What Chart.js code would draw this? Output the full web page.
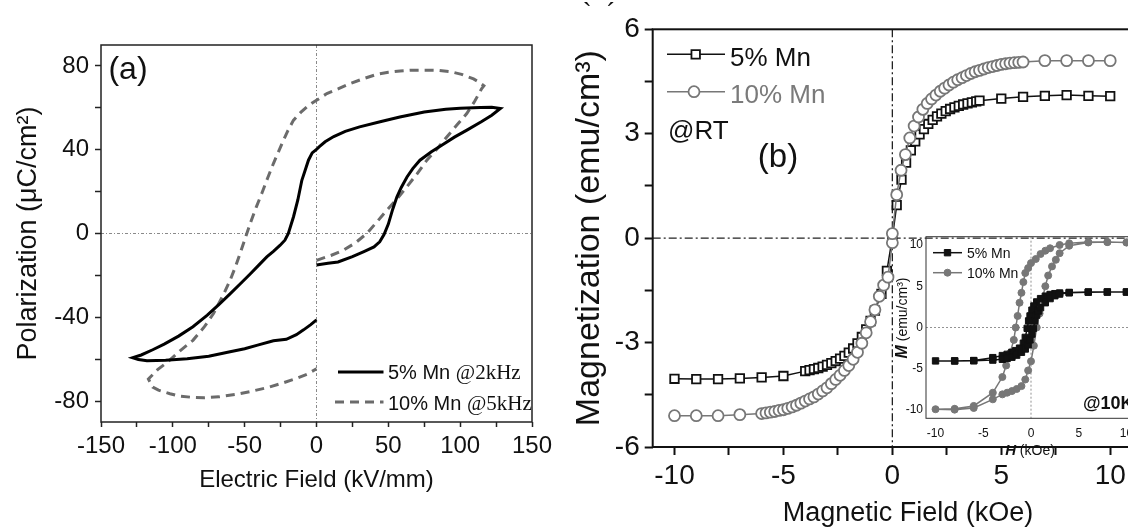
<!DOCTYPE html>
<html><head><meta charset="utf-8">
<script src="https://cdn.jsdelivr.net/npm/chart.js@4.4.1/dist/chart.umd.min.js"></script>
<style>
html,body{margin:0;padding:0;background:#fff;overflow:hidden;width:1128px;height:530px;position:relative;}
canvas{position:absolute;}
#ca{left:0;top:0;}
#cb{left:560px;top:0;}
#ci{left:880px;top:225px;}
</style></head><body>
<canvas id="ca" width="560" height="530"></canvas>
<canvas id="cb" width="600" height="530"></canvas>
<canvas id="ci" width="270" height="240"></canvas>
<script>
// ---------- Panel (a): P-E loops ----------
const aXTicks = [-150,-100,-50,0,50,100,150];
const aXMinor = [-125,-75,-25,25,75,125];
const aYTicks = [-80,-40,0,40,80];
const aYMinor = [-60,-20,20,60];
const aLegend5 = ['5% Mn ', '@2kHz'];
const aLegend10 = ['10% Mn ', '@5kHz'];
const a5X = [0,8,15,25,33,40,44,47,50,53,56,59,63,67,72,80,88,96,105,115,122,128,
  122,114,100,90,75,58,45,30,20,12,6,2,0,-3,-5.6,-8,-10.2,-13,-16,-19.6,-22,-25.3,-30,-34.6,-40,-46,-53,-60,-68,-76,-86,-96,-106,-114,-122,-128,
  -124,-118,-105,-90,-75,-61,-50,-41,-30,-21,-14,-9,-4,0];
const a5Y = [-15,-14.2,-13.6,-11,-8.6,-6.4,-4,-0.5,4.5,11.5,17.5,22,27,31,35,39,42.5,46,49.5,53.5,56.5,59.7,
  60.3,60.2,59.8,59.3,58,55.6,53.5,50.9,48.8,46.3,43.8,41.5,40.2,38.5,35,30,25.4,16,8,0,-3.2,-5.6,-8.5,-11.2,-15,-19.2,-24,-28.7,-34,-39,-44.5,-49,-52.8,-55.5,-58,-59.3,
  -60.2,-60.8,-60.5,-59.8,-58.6,-56.6,-55,-53.3,-51.2,-50.5,-48.3,-46,-43.5,-41.2];
const a10X = [0,10,18.7,27,35,42,48.9,56,62.8,70,76.8,84,90.7,98,104.6,110,115,116.5,
  113,109.3,101,93,85,76.8,67,58.2,50,42,33,23.4,15,7.2,0,-3,-6.8,-11,-16.1,-20,-23,-26.5,-30,-34,-38.1,-42,-45.5,-48.5,-53.2,-56.5,-60.1,-65,-71.7,-78,-86,-95,-103,-110.6,-117,
  -114,-110,-102,-95.7,-87,-78.4,-68,-56,-45,-33.7,-24,-13.9,-6,0];
const a10Y = [-12.8,-10.5,-8,-4.5,0,5.5,11.1,16.5,22.2,28.5,35,40.5,46.1,52,57.3,63,69.2,70.5,
  72.3,73.8,76,77.3,77.9,78,78,77.6,77,76,74,71.6,69,66.8,63.6,62.3,60.4,57.8,54,49,44.5,39,33.4,26.5,19.1,12.5,6,0,-9.6,-16,-22.3,-29.5,-38.2,-44.5,-51,-56,-61,-65,-69.5,
  -73.3,-74.8,-76.5,-77.6,-78.2,-78.4,-78,-76.8,-75.3,-73.5,-71.5,-69.2,-67,-64.6];

// ---------- Panel (b): M-H at RT ----------
const bXTicks = [-10,-5,0,5,10];
const bXMinor = [-7.5,-2.5,2.5,7.5];
const bYTicks = [-6,-3,0,3,6];
const bYMinor = [-4.5,-1.5,1.5,4.5];
const bLabels = ['5% Mn', '10% Mn'];
const b5X = [-10,-9,-8,-7,-6,-5,-4,-3.8,-3.6,-3.4,-3.2,-3,-2.8,-2.6,-2.4,-2.2,-2,-1.8,-1.6,-1.4,-1.2,-1,-0.8,-0.5,-0.25,0,
  0.2,0.42,0.63,0.85,1.05,1.25,1.45,1.65,1.85,2.05,2.25,2.45,2.65,2.85,3.05,3.25,3.45,3.65,3.85,4,5,6,7,8,9,10];
const b5Y = [-4.04,-4.05,-4.05,-4.03,-4.0,-3.96,-3.82,-3.79,-3.76,-3.73,-3.69,-3.64,-3.59,-3.53,-3.46,-3.38,-3.29,-3.17,-3.02,-2.84,-2.62,-2.38,-2.08,-1.6,-0.94,0.02,
  0.95,1.68,2.17,2.52,2.78,2.98,3.13,3.28,3.4,3.5,3.58,3.65,3.71,3.76,3.8,3.84,3.87,3.9,3.93,3.95,4.01,4.06,4.09,4.11,4.09,4.08];
const b10X = [-10,-9,-8,-7,-6,-5.8,-5.6,-5.4,-5.2,-5,-4.8,-4.6,-4.4,-4.2,-4,-3.8,-3.6,-3.4,-3.2,-3,-2.8,-2.6,-2.4,-2.2,-2,-1.8,-1.6,-1.4,-1.2,-1,-0.8,-0.6,-0.4,-0.2,0,0,
  0.2,0.4,0.6,0.8,1,1.2,1.4,1.6,1.8,2,2.2,2.4,2.6,2.8,3,3.2,3.4,3.6,3.8,4,4.2,4.4,4.6,4.8,5,5.2,5.4,5.6,5.8,6,7,8,9,10];
const b10Y = [-5.1,-5.1,-5.1,-5.07,-5.04,-5.02,-5.0,-4.98,-4.95,-4.93,-4.89,-4.85,-4.8,-4.74,-4.68,-4.62,-4.56,-4.48,-4.39,-4.3,-4.18,-4.06,-3.94,-3.8,-3.66,-3.48,-3.28,-3.02,-2.72,-2.4,-2.06,-1.67,-1.35,-1.12,-0.13,0.13,
  1.25,1.95,2.4,2.88,3.22,3.48,3.7,3.87,4.0,4.11,4.22,4.31,4.4,4.48,4.55,4.61,4.67,4.73,4.78,4.82,4.86,4.9,4.93,4.96,4.99,5.01,5.03,5.04,5.05,5.06,5.1,5.1,5.1,5.1];

// ---------- Inset: M-H at 10K ----------
const iTicks = [-10,-5,0,5,10];
const i5X = [10,8,6,4,3,2.5,2,1.5,1,0.6,0.3,0.1,-0.1,-0.25,-0.4,-0.6,-0.8,-1.2,-1.6,-2,-2.5,-3,-4,-6,-8,-10,
  -8,-6,-4,-3,-2.5,-2,-1.5,-1,-0.6,-0.3,-0.1,0.1,0.25,0.4,0.6,0.8,1,1.5,2,2.5,3,4,6,8,10];
const i5Y = [4.3,4.3,4.3,4.25,4.18,4.1,4.0,3.8,3.5,3.1,2.6,2.1,1.4,0.8,-0.1,-1.2,-1.9,-2.5,-2.8,-3.0,-3.25,-3.4,-3.65,-4.0,-4.05,-4.05,
  -4.05,-4.03,-3.95,-3.85,-3.75,-3.6,-3.35,-3.0,-2.6,-2.1,-1.5,-0.8,-0.1,0.8,1.5,2.0,2.4,3.0,3.5,3.85,4.05,4.2,4.28,4.3,4.3];
const i10X = [10,8,6,4,3,2,1.5,1,0.5,0,-0.3,-0.6,-0.8,-1,-1.2,-1.4,-1.6,-1.8,-2.2,-2.6,-3,-4,-6,-8,-10,
  -8,-6,-4,-3,-2.5,-2,-1.5,-1,-0.6,-0.3,0,0.3,0.6,0.9,1.2,1.5,1.8,2.2,2.6,3,4,6,8,10];
const i10Y = [10.3,10.35,10.35,10.2,10.0,9.6,9.3,8.9,8.3,7.8,7.2,6.6,5.5,4.2,3.0,1.4,0,-1.5,-3.1,-4.6,-6.0,-7.9,-9.5,-9.85,-9.9,
  -9.95,-9.75,-8.7,-8.1,-7.9,-7.7,-7.45,-7.1,-6.3,-5.2,-4.1,-2.2,0,1.7,3.5,5.0,6.3,7.4,8.2,9.0,9.9,10.3,10.35,10.3];

const SANS = "'Liberation Sans', Arial, sans-serif";
const SERIF = "'Liberation Serif', 'Times New Roman', serif";
Chart.defaults.font.family = SANS;
Chart.defaults.color = '#111';

function pts(xs, ys) { return xs.map((x, i) => ({x: x, y: ys[i]})); }

function axis(opts) {
  const major = opts.major, minor = opts.minor || [];
  return {
    min: opts.min, max: opts.max,
    afterBuildTicks: sc => { sc.ticks = major.concat(minor).sort((a, b) => a - b).map(v => ({value: v})); },
    afterFit: sc => { if (opts.width != null) sc.width = opts.width; if (opts.height != null) sc.height = opts.height; },
    grid: {drawOnChartArea: false, drawTicks: opts.tl > 0, tickLength: opts.tl || 0, tickWidth: opts.tw || 1.5, tickColor: opts.tc || '#111'},
    border: {display: false},
    ticks: {autoSkip: false, maxRotation: 0, minRotation: 0, padding: opts.pad, color: '#111',
      font: {size: opts.fs, family: opts.ff || SANS},
      callback: v => major.includes(v) ? String(v) : ''},
    title: opts.title ? {display: true, text: opts.title, color: '#111', font: {size: opts.tfs, family: SANS}, padding: opts.tpad} : {display: false}
  };
}

function runs(ctx, parts, x, y, align, rot) {
  ctx.save();
  ctx.translate(x, y);
  if (rot) ctx.rotate(rot);
  ctx.textBaseline = 'alphabetic';
  let w = 0;
  parts.forEach(p => { ctx.font = p.f; p.w = ctx.measureText(p.t).width; w += p.w; });
  let cx = align === 'center' ? -w / 2 : (align === 'right' ? -w : 0);
  parts.forEach(p => { ctx.font = p.f; ctx.fillStyle = p.c || '#111'; ctx.fillText(p.t, cx, p.dy || 0); cx += p.w; });
  ctx.restore();
}

function zeroLines(chart, color, width, dash) {
  const {ctx, chartArea: a, scales} = chart;
  const x0 = scales.x.getPixelForValue(0), y0 = scales.y.getPixelForValue(0);
  ctx.save();
  ctx.strokeStyle = color; ctx.lineWidth = width; ctx.setLineDash(dash);
  ctx.beginPath();
  ctx.moveTo(x0, a.top); ctx.lineTo(x0, a.bottom);
  ctx.moveTo(a.left, y0); ctx.lineTo(a.right, y0);
  ctx.stroke();
  ctx.restore();
}
function frame(chart, color, width) {
  const {ctx, chartArea: a} = chart;
  ctx.save(); ctx.strokeStyle = color; ctx.lineWidth = width; ctx.setLineDash([]);
  ctx.strokeRect(a.left, a.top, a.right - a.left, a.bottom - a.top);
  ctx.restore();
}
function marker(ctx, style, x, y, r, fill, stroke, bw) {
  ctx.save(); ctx.setLineDash([]);
  ctx.fillStyle = fill; ctx.strokeStyle = stroke; ctx.lineWidth = bw;
  ctx.beginPath();
  if (style === 'rect') { const h = r * Math.SQRT1_2; ctx.rect(x - h, y - h, 2 * h, 2 * h); }
  else ctx.arc(x, y, r, 0, Math.PI * 2);
  ctx.fill(); ctx.stroke(); ctx.restore();
}
function seg(ctx, x1, x2, y, color, width, dash) {
  ctx.save(); ctx.strokeStyle = color; ctx.lineWidth = width; ctx.setLineDash(dash || []);
  ctx.beginPath(); ctx.moveTo(x1, y); ctx.lineTo(x2, y); ctx.stroke(); ctx.restore();
}

const common = {responsive: false, animation: false, devicePixelRatio: 1, events: [],
  plugins: {legend: {display: false}, tooltip: {enabled: false}}};

// ---------- Chart A ----------
const decorA = {
  id: 'decorA',
  beforeDatasetsDraw(chart) { zeroLines(chart, '#8a8a8a', 1, [3, 2, 1, 2]); },
  afterDraw(chart) {
    const ctx = chart.ctx;
    frame(chart, '#222', 1.5);
    runs(ctx, [{t: '(a)', f: `32px ${SANS}`}], 128, 79, 'center');
    const ds = chart.data.datasets;
    seg(ctx, 338, 383.5, 372, ds[0].borderColor, 3);
    runs(ctx, [{t: aLegend5[0], f: `20px ${SANS}`}, {t: aLegend5[1], f: `21px ${SERIF}`}], 388, 379, 'left');
    seg(ctx, 335, 383.5, 402, ds[1].borderColor, 3, [9, 6]);
    runs(ctx, [{t: aLegend10[0], f: `20px ${SANS}`}, {t: aLegend10[1], f: `21px ${SERIF}`}], 388, 409.5, 'left');
  }
};
new Chart(document.getElementById('ca'), {
  type: 'scatter',
  data: {datasets: [
    {label: aLegend5.join(''), data: pts(a5X, a5Y), showLine: true, borderColor: '#000', borderWidth: 3, pointRadius: 0, tension: 0},
    {label: aLegend10.join(''), data: pts(a10X, a10Y), showLine: true, borderColor: '#6b6b6b', borderWidth: 3, borderDash: [9, 6], pointRadius: 0, tension: 0}
  ]},
  options: Object.assign({}, common, {
    layout: {padding: {left: 0, top: 45, right: 28, bottom: 0}},
    scales: {
      x: axis({min: -150, max: 150, major: aXTicks, minor: aXMinor, height: 108, tl: 5, tw: 1.5, tc: '#222', pad: 5, fs: 24,
        title: 'Electric Field (kV/mm)', tfs: 24, tpad: {top: 0, bottom: 35}}),
      y: axis({min: -90, max: 90, major: aYTicks, minor: aYMinor, width: 101, tl: 6, tw: 1.5, tc: '#222', pad: 6, fs: 24,
        title: 'Polarization (\u03bcC/cm\u00b2)', tfs: 27, tpad: {top: 12.8, bottom: 0}})
    }
  }),
  plugins: [decorA]
});

// ---------- Chart B ----------
const decorB = {
  id: 'decorB',
  beforeDatasetsDraw(chart) { zeroLines(chart, '#222', 1.3, [8, 3, 2, 3]); },
  afterDraw(chart) {
    const ctx = chart.ctx;
    frame(chart, '#111', 2);
    const ds = chart.data.datasets; // ds[0] = 10%, ds[1] = 5%
    seg(ctx, 107, 165, 54.3, ds[1].borderColor, 1.5);
    marker(ctx, 'rect', 135.7, 54.3, 6, '#fff', ds[1].pointBorderColor, 1.8);
    runs(ctx, [{t: bLabels[0], f: `26px ${SANS}`, c: '#111'}], 170, 65.7, 'left');
    seg(ctx, 107, 165, 91.7, ds[0].borderColor, 1.5);
    marker(ctx, 'circle', 134, 91.7, 5.5, '#fff', ds[0].pointBorderColor, 1.8);
    runs(ctx, [{t: bLabels[1], f: `26px ${SANS}`, c: '#7a7a7a'}], 170, 102.8, 'left');
    runs(ctx, [{t: '@RT', f: `26px ${SANS}`}], 108, 139, 'left');
    runs(ctx, [{t: '(b)', f: `33px ${SANS}`}], 218, 166.5, 'center');
    runs(ctx, [{t: 'Magnetic Field (kOe)', f: `27px ${SANS}`}], 348, 521.3, 'center');
    runs(ctx, [{t: '`', f: `26px ${SANS}`}], 23, 21, 'left');
    runs(ctx, [{t: '\u00b4', f: `26px ${SANS}`}], 47, 21, 'left');
  }
};
new Chart(document.getElementById('cb'), {
  type: 'scatter',
  data: {datasets: [
    {label: bLabels[1], data: pts(b10X, b10Y), showLine: true, borderColor: '#777', borderWidth: 1.5, pointStyle: 'circle', pointRadius: 5.5,
      pointBorderWidth: 1.8, pointBackgroundColor: '#fff', pointBorderColor: '#777', tension: 0},
    {label: bLabels[0], data: pts(b5X, b5Y), showLine: true, borderColor: '#111', borderWidth: 1.5, pointStyle: 'rect', pointRadius: 6,
      pointBorderWidth: 1.8, pointBackgroundColor: '#fff', pointBorderColor: '#111', tension: 0}
  ]},
  options: Object.assign({}, common, {
    layout: {padding: {left: 0, top: 29.3, right: 28, bottom: 0}},
    scales: {
      x: axis({min: -11, max: 11, major: bXTicks, minor: bXMinor, height: 83, tl: 8, tw: 2, tc: '#111', pad: 4, fs: 28}),
      y: axis({min: -6, max: 6, major: bYTicks, minor: bYMinor, width: 92.7, tl: 8, tw: 2, tc: '#111', pad: 5, fs: 28,
        title: 'Magnetization (emu/cm\u00b3)', tfs: 34, tpad: {top: 9.6, bottom: 0}})
    }
  }),
  plugins: [decorB]
});

// ---------- Inset ----------
const decorI = {
  id: 'decorI',
  beforeDatasetsDraw(chart) { zeroLines(chart, '#777', 0.8, [2, 2]); },
  afterDraw(chart) {
    const ctx = chart.ctx;
    frame(chart, '#333', 1);
    const ds = chart.data.datasets; // ds[0] = 5%, ds[1] = 10%
    seg(ctx, 53, 82, 27.7, ds[0].borderColor, 1.5);
    marker(ctx, 'rect', 67.5, 27.7, 4.5, ds[0].pointBackgroundColor, ds[0].pointBorderColor, 1);
    runs(ctx, [{t: bLabels[0], f: `14px ${SANS}`}], 87, 32.7, 'left');
    seg(ctx, 53, 82, 47.7, ds[1].borderColor, 1.5);
    marker(ctx, 'circle', 67.5, 47.7, 3.5, ds[1].pointBackgroundColor, ds[1].pointBorderColor, 1);
    runs(ctx, [{t: bLabels[1], f: `14px ${SANS}`}], 87, 52.7, 'left');
    runs(ctx, [{t: '@10K', f: `bold 18px ${SANS}`}], 203, 184.4, 'left');
    runs(ctx, [{t: 'M', f: `italic bold 16px ${SANS}`}, {t: ' (emu/cm\u00b3)', f: `14px ${SANS}`}], 26.7, 93, 'center', -Math.PI / 2);
    runs(ctx, [{t: 'H', f: `italic bold 15px ${SANS}`}, {t: ' (kOe)', f: `14px ${SANS}`}], 150, 230, 'center');
  }
};
new Chart(document.getElementById('ci'), {
  type: 'scatter',
  data: {datasets: [
    {label: bLabels[0], data: pts(i5X, i5Y), showLine: true, borderColor: '#111', borderWidth: 1.5, pointStyle: 'rect', pointRadius: 4.5,
      pointBorderWidth: 1, pointBackgroundColor: '#111', pointBorderColor: '#111', tension: 0},
    {label: bLabels[1], data: pts(i10X, i10Y), showLine: true, borderColor: '#777', borderWidth: 1.5, pointStyle: 'circle', pointRadius: 3.5,
      pointBorderWidth: 1, pointBackgroundColor: '#777', pointBorderColor: '#777', tension: 0}
  ]},
  options: Object.assign({}, common, {
    layout: {padding: {left: 0, top: 11.7, right: 14, bottom: 0}},
    scales: {
      x: axis({min: -11, max: 11, major: iTicks, height: 46.7, tl: 0, pad: 7.8, fs: 12}),
      y: axis({min: -11, max: 11, major: iTicks, width: 46, tl: 0, pad: 3, fs: 12})
    }
  }),
  plugins: [decorI]
});
</script>
</body></html>
